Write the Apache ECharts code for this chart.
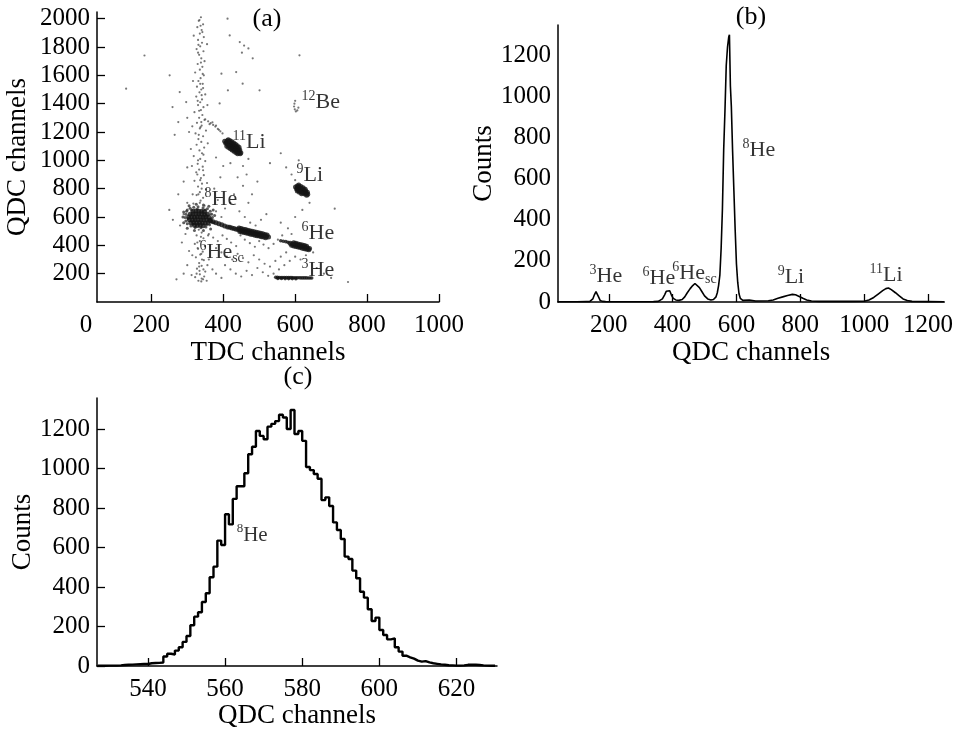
<!DOCTYPE html>
<html><head><meta charset="utf-8">
<script src="https://cdn.jsdelivr.net/npm/echarts@6.0.0/dist/echarts.min.js"></script>
<style>html,body{margin:0;padding:0;background:#fff}#c{width:956px;height:735px}</style>
</head><body><div id="c"></div>
<script>
// ---------------- DATA ----------------
// Panel (a): TDC vs QDC scatter, clusters (TDC, QDC)
var li11 = [[404,1134],[409,1126],[414,1118],[419,1110],[424,1101],[429,1092],[434,1083],[439,1074],[444,1064],[449,1054],[411,1138],[416,1130],[421,1121],[426,1112],[431,1103],[436,1094],[441,1084],[446,1073],[407,1120],[412,1112],[417,1103],[422,1094],[427,1085],[432,1076],[437,1066],[442,1056],[447,1046],
  [414,1146],[419,1139],[424,1131],[429,1122],[434,1113],[439,1103],[444,1093],[410,1100],[415,1091],[420,1082],[425,1073],[430,1064],[435,1055],[440,1046]];
var li9 = [[601,812],[606,804],[612,796],[618,787],[624,778],[630,769],[635,761],[606,819],[611,811],[617,802],[623,793],[629,784],[634,775],[604,797],[609,789],[615,780],[621,771],[627,762],[632,754],[610,826],[616,816],[622,806],[628,796],[606,784],[612,774],[618,764]];
var he8 = [[316,640],[324,642],[332,640],[340,641],[348,638],
  [308,620],[316,621],[324,619],[332,622],[340,620],[348,618],[356,620],
  [304,600],[312,601],[320,599],[328,602],[336,600],[344,598],[352,601],[360,599],
  [306,580],[314,579],[322,581],[330,580],[338,578],[346,581],[354,579],[362,577],
  [310,560],[318,561],[326,559],[334,562],[342,560],[350,558],[358,561],
  [320,542],[328,540],[336,542],[344,539]];
var he8halo = [[300,650],[308,662],[318,668],[330,672],[344,666],[356,658],[364,640],[368,620],[370,596],[368,566],[362,545],[352,530],[338,524],[322,526],[310,536],[300,552],[296,572],[294,596],[296,620],[298,640],
  [305,680],[325,690],[345,685],[360,675],[372,650],[376,610],[374,560],[365,515],[345,505],[320,505],[300,520],[290,560],[288,600],[290,635],
  [312,650],[328,655],[350,650],[302,590],[366,588],[316,548],[354,546]];
var he8band = [[365,574],[372,567],[380,560],[388,552],[396,545],[404,537],[412,530],[418,527],[424,522],[430,518],[436,514],[442,511],[448,507],[454,503],[460,500],[466,496],[472,492],[478,489],[484,485],[490,481],[496,478],[502,474],[508,471],[514,467],[520,463],[526,459],
  [444,522],[450,518],[456,514],[462,511],[468,507],[474,503],[480,500],[486,496],[492,492],[498,489],[504,485],[510,481],[516,477],[522,473],
  [446,498],[452,494],[458,490],[464,487],[470,483],[476,479],[482,476],[488,472],[494,468],[500,465],[506,461],[512,458],[518,454]];
var he6 = [[586,414],[592,410],[598,406],[604,402],[610,398],[616,394],[622,390],[628,386],[634,382],[640,378],[590,400],[596,396],[602,392],[608,388],[614,384],[620,380],[626,376],[632,372],[638,368],[596,418],[602,414],[608,410],[614,406],[620,402],[626,398],[632,394]];
var he3 = [[546,174],[551,174],[556,173],[561,173],[566,173],[571,173],[576,172],[581,172],[586,172],[591,172],[596,171],[601,171],[606,171],[611,171],[616,170],[621,170],[626,170],[631,170],[636,169],[641,169],[646,169],[552,166],[562,166],[572,165],[582,165],[592,165],[602,164],[560,432],[567,429],[574,426],[580,422]];
var be12 = [[600,1420],[598,1400],[597,1380],[599,1360],[602,1345],[606,1352],[609,1372]];
var vertBand = [[338,2010],[332,1985],[344,1960],[328,1940],[340,1920],[335,1895],[346,1870],[330,1850],[341,1830],[336,1805],[326,1785],[345,1770],[333,1745],[339,1720],[348,1700],[329,1680],[342,1660],[335,1640],[322,1620],[346,1600],[337,1580],[331,1560],[343,1540],[327,1520],[339,1500],[334,1480],[350,1465],[325,1450],[341,1430],[336,1410],[330,1390],[345,1375],[338,1355],[320,1340],[342,1320],[333,1300],[348,1285],[327,1265],[340,1245],[335,1225],[352,1210],[323,1190],[344,1170],[331,1150],[339,1130],[326,1110],[347,1090],[334,1070],[341,1050],[318,1030],[336,1010],[350,995],[329,975],[343,955],[333,935],[325,915],[346,895],[338,875],[320,855],[341,835],[330,815],[352,795],[335,775],[326,755],[344,735],[337,715],[317,695],[348,680],[332,510],[340,490],[326,470],[345,450],[335,430],[321,410],[349,395],[330,375],[343,355],[336,335],[324,315],[346,295],[333,275],[340,255],[327,235],[350,215],[335,195],[322,175],[344,160],[331,150],[339,145],
  [334,1990],[342,1905],[331,1815],[338,1690],[344,1510],[329,1420],[337,1235],[332,1180],[345,1040],[328,900],[340,800],[335,700],[338,460],[329,380],[341,300],[334,220],[347,180],[337,1950],[330,1760],[343,1610],[336,1540],[340,1460],[333,1350],[339,1270],[330,1000],[344,930],[336,860],[331,760],[342,640],[328,420],[339,340],[333,250],[345,230],[326,200],[340,165],
  [318,1880],[355,1820],[316,1560],[356,1390],[314,1240],[357,1120],[313,960],[355,840],[315,760],[358,470],[314,330],[356,260],[312,190],[354,150]];
var diagBand = [[350,1290],[358,1275],[365,1262],[372,1250],[378,1238],[385,1222],[392,1205],[398,1190],[362,1255],[380,1245],[370,1268],[388,1215]];
var looseDots = [[412,2000],[418,1882],[446,1835],[458,1810],[470,1790],[482,1720],[452,1760],[395,1612],[436,1623],[413,1494],[454,1541],[501,1494],[390,1402],[612,1741],[251,1600],[259,1376],[279,1482],[297,1411],[130,1506],[181,1740],[710,659],[747,141],
  [360,480],[372,455],[385,430],[398,470],[410,445],[422,420],[436,395],[448,470],[460,440],[474,415],[488,390],[500,430],[512,405],[526,380],[540,410],[552,440],[564,470],[380,380],[395,350],[410,320],[425,300],[440,340],[455,310],[470,280],[485,330],[500,300],[515,270],[530,250],[545,290],[560,320],[575,350],[405,260],[420,230],[435,200],[450,180],[465,220],[480,190],[495,240],[510,210],[525,185],[540,200],[555,230],[570,260],[585,290],[600,320],[615,300],[630,330],[650,350],[660,240],[680,200],[700,170],[380,200],[395,170],[370,230],[360,300],
  [365,620],[380,640],[395,600],[405,660],[420,700],[430,760],[445,640],[460,600],[475,560],[490,540],[505,580],[520,620],[470,700],[480,760],[455,820],[440,880],[465,900],[495,850],[385,720],[375,800],[392,880],[400,960],[380,1020],[420,980],[455,960],[470,1010],[560,560],[580,520],[590,480],[600,600],[620,650],[640,700],[600,860],[590,900],[575,950],[610,1000],[560,1050],[530,980],
  [300,700],[290,620],[280,540],[295,480],[285,420],[305,360],[300,260],[290,200],[270,160],[260,580],[250,650],[275,760],[290,850],[300,950],[310,1080],[305,1200],[275,1270],[265,1180],[300,1300]];
var aLabelPos = [[618,1411],[426,1129],[604,894],[348,722],[618,482],[334,353],[618,223]];
var aLabelSup = ['12','11','9','8','6','6','3'];
var aLabelEl  = ['Be','Li','Li','He','He','He','He'];
var aLabelSub = ['','','','','','sc',''];
var aXTicks = [200,400,600,800,1000];
var aYTicks = [200,400,600,800,1000,1200,1400,1600,1800,2000];

// Panel (b): QDC spectrum (channel, counts)
var bQdc = [40,100,130,140,145,150,155,160,164,168,173,180,190,220,260,300,340,355,360,368,375,380,386,391,396,402,410,420,430,438,446,455,463,470,476,484,492,500,510,520,528,536,540,544,548,552,556,560,564,568,572,576,578,581,584,588,592,596,600,604,608,612,620,640,660,700,715,730,745,760,775,785,795,808,820,835,860,920,960,1000,1015,1030,1045,1058,1068,1076,1085,1098,1110,1122,1135,1150,1200,1250];
var bCounts = [1,1,2,2,5,15,35,50,45,25,8,3,2,1,1,1,2,3,5,15,35,52,60,55,35,18,10,8,12,25,45,65,80,90,88,70,50,30,15,10,12,25,45,80,130,260,450,740,930,1150,1240,1290,1300,1050,950,730,540,350,185,95,40,18,8,10,5,6,10,18,25,32,37,35,28,18,10,5,3,3,3,4,10,22,40,55,65,68,60,45,30,15,7,3,2,1];
var bLabelPos = [[140,125],[306,114],[399,138],[619,738],[729,122],[1017,130]];
var bLabelSup = ['3','6','6','8','9','11'];
var bLabelEl  = ['He','He','He','He','Li','Li'];
var bLabelSub = ['','','sc','','',''];
var bXTicks = [200,400,600,800,1000,1200];
var bYTicks = [0,200,400,600,800,1000,1200];

// Panel (c): 8He peak histogram, one-channel bins starting at cFirstBin
var cFirstBin = 527;
var cCounts = [1,1,2,2,2,3,5,6,7,8,9,10,10,14,15,16,18,48,62,58,78,95,122,152,206,250,272,324,368,449,503,635,613,768,717,846,910,910,976,1072,1110,1190,1165,1148,1212,1226,1240,1272,1258,1200,1296,1175,1190,1140,1008,992,972,948,840,854,810,727,689,643,554,542,483,444,376,346,287,228,245,182,157,135,140,95,73,52,44,37,27,22,25,18,14,11,8,6,4,3,2,2,3,6,7,6,5,3,2,1,1];
var cLabelPos = [[563,663]];
var cLabelSup = ['8'];
var cLabelEl  = ['He'];
var cLabelSub = [''];
var cXTicks = [540,560,580,600,620];
var cYTicks = [0,200,400,600,800,1000,1200];

// ---------------- CHART ----------------
var F = '"Liberation Serif","DejaVu Serif",serif';
var chart = echarts.init(document.getElementById('c'), null, {renderer:'canvas'});

function rich(main, sup) {
  return {
    sup: {fontFamily:F, fontSize:sup, color:'#000', verticalAlign:'top'},
    main:{fontFamily:F, fontSize:main, color:'#000', lineHeight:main+4},
    sub: {fontFamily:F, fontSize:sup, color:'#000', verticalAlign:'bottom'}
  };
}
function labelSeries(xi, pos, sups, els, subs, main, sup) {
  return {
    type:'scatter', xAxisIndex:xi, yAxisIndex:xi, data:pos, symbolSize:0, silent:true, z:10,
    label:{show:true, position:'right', distance:0,
      formatter:function(p){var i=p.dataIndex; return '{sup|'+sups[i]+'}{main|'+els[i]+'}'+(subs[i]?'{sub|'+subs[i]+'}':'');},
      rich:rich(main, sup)}
  };
}
function plain(v){ return String(v); }
function xAx(gi, min, max, ticks, name, gap) {
  return {gridIndex:gi, type:'value', min:min, max:max, name:name, nameLocation:'middle', nameGap:gap,
    nameTextStyle:{fontFamily:F, fontSize:27, color:'#000'},
    axisLine:{onZero:false, lineStyle:{color:'#000', width:1.5}},
    axisTick:{show:true, inside:true, length:8, customValues:ticks, lineStyle:{color:'#000', width:1.3}},
    axisLabel:{customValues:ticks, formatter:plain, fontFamily:F, fontSize:25, color:'#000', margin:11},
    splitLine:{show:false}};
}
function yAx(gi, min, max, ticks, name, gap, showTick) {
  return {gridIndex:gi, type:'value', min:min, max:max, name:name, nameLocation:'middle', nameGap:gap,
    nameTextStyle:{fontFamily:F, fontSize:27, color:'#000'},
    axisLine:{show:true, onZero:false, lineStyle:{color:'#000', width:1.5}},
    axisTick:{show:showTick, inside:true, length:8, customValues:ticks, lineStyle:{color:'#000', width:1.3}},
    axisLabel:{customValues:ticks, formatter:plain, fontFamily:F, fontSize:25, color:'#000', margin:7},
    splitLine:{show:false}};
}

var cData = cCounts.map(function(v,i){return [cFirstBin+i, v];});
cData.push([cFirstBin+cCounts.length, cCounts[cCounts.length-1]]);
var bData = bQdc.map(function(q,i){return [q, bCounts[i]];});

var option = {
  animation:false,
  backgroundColor:'#fff',
  grid:[
    {left:97, top:12, width:342, height:290},
    {left:558, top:25, width:387, height:277},
    {left:97, top:398, width:400, height:268}
  ],
  xAxis:[
    xAx(0, 49, 1000, aXTicks, 'TDC channels', 37),
    xAx(1, 41, 1251, bXTicks, 'QDC channels', 37),
    xAx(2, 526.8, 630.5, cXTicks, 'QDC channels', 33)
  ],
  yAxis:[
    yAx(0, 0, 2047, aYTicks, 'QDC channels', 66, true),
    yAx(1, 0, 1347, bYTicks, 'Counts', 52, false),
    yAx(2, 0, 1357, cYTicks, 'Counts', 55, true)
  ],
  graphic:[
    {type:'text', x:267, y:19, style:{text:'(a)', font:'26px '+F, fill:'#000', textAlign:'center', textVerticalAlign:'middle'}},
    {type:'text', x:751, y:17, style:{text:'(b)', font:'26px '+F, fill:'#000', textAlign:'center', textVerticalAlign:'middle'}},
    {type:'text', x:298, y:377, style:{text:'(c)', font:'26px '+F, fill:'#000', textAlign:'center', textVerticalAlign:'middle'}},
    {type:'text', x:86, y:325, style:{text:'0', font:'25px '+F, fill:'#000', textAlign:'center', textVerticalAlign:'middle'}}
  ],
  series:[
    {type:'scatter', xAxisIndex:0, yAxisIndex:0, data:vertBand.concat(diagBand, looseDots, be12), symbolSize:2.2, itemStyle:{color:'#555'}, silent:true},
    {type:'scatter', xAxisIndex:0, yAxisIndex:0, data:he8halo, symbolSize:3, itemStyle:{color:'#333'}, silent:true},
    {type:'scatter', xAxisIndex:0, yAxisIndex:0, data:li11.concat(li9, he8, he8band, he6), symbolSize:5, itemStyle:{color:'#151515'}, silent:true},
    {type:'scatter', xAxisIndex:0, yAxisIndex:0, data:he3, symbolSize:3.6, itemStyle:{color:'#111'}, silent:true},
    labelSeries(0, aLabelPos, aLabelSup, aLabelEl, aLabelSub, 22, 14),
    {type:'line', xAxisIndex:1, yAxisIndex:1, data:bData, showSymbol:false, lineStyle:{color:'#000', width:1.6}, silent:true},
    labelSeries(1, bLabelPos, bLabelSup, bLabelEl, bLabelSub, 22, 14),
    {type:'line', xAxisIndex:2, yAxisIndex:2, data:cData, step:'end', showSymbol:false, lineStyle:{color:'#000', width:2.4}, silent:true},
    labelSeries(2, cLabelPos, cLabelSup, cLabelEl, cLabelSub, 21, 13)
  ]
};
chart.setOption(option);
</script></body></html>
